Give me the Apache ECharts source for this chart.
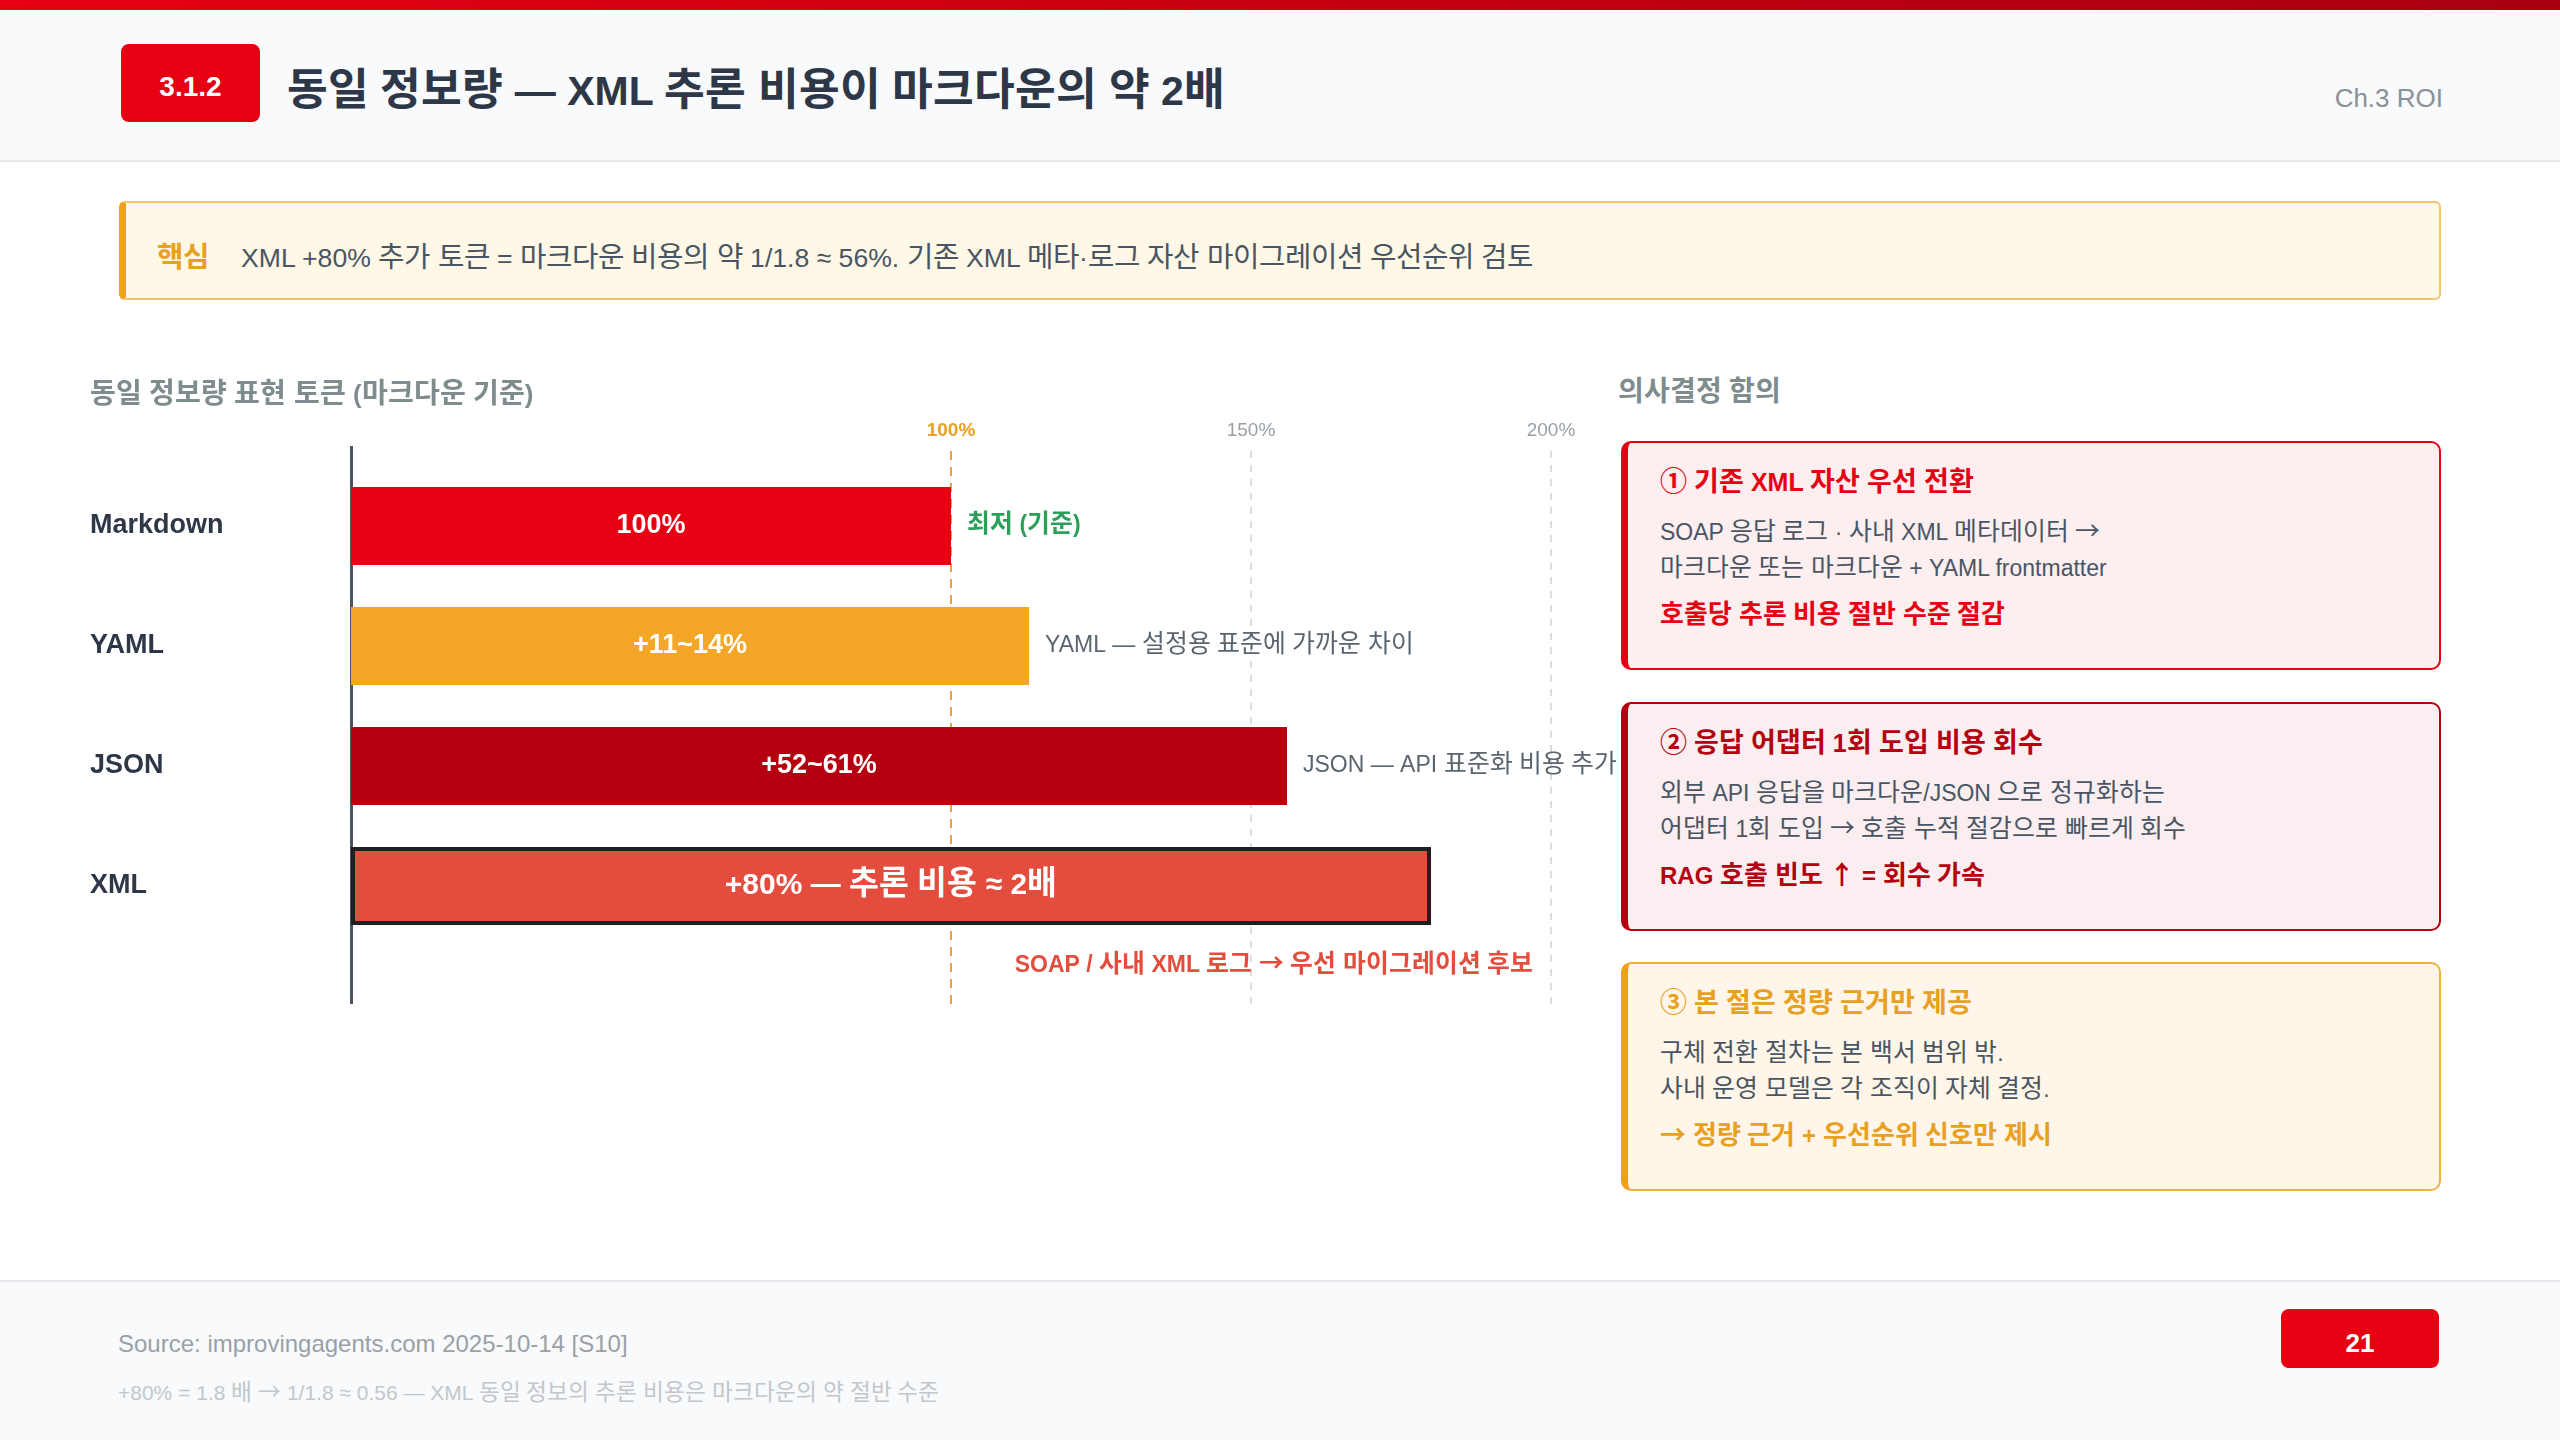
<!DOCTYPE html>
<html lang="ko">
<head>
<meta charset="UTF-8">
<title>동일 정보량 — XML 추론 비용</title>
<script src="https://cdn.jsdelivr.net/npm/echarts@6/dist/echarts.min.js"></script>
<style>
  @font-face { font-family: 'KR'; font-weight: normal;
    src: local('Noto Sans CJK KR'), local('Noto Sans CJK KR Regular'), local('NotoSansCJKkr-Regular');
    unicode-range: U+1100-11FF, U+3130-318F, U+AC00-D7AF, U+2190-21FF, U+2460-24FF; size-adjust: 108%; }
  @font-face { font-family: 'KR'; font-weight: bold;
    src: local('Noto Sans CJK KR Bold'), local('NotoSansCJKkr-Bold');
    unicode-range: U+1100-11FF, U+3130-318F, U+AC00-D7AF, U+2190-21FF, U+2460-24FF; size-adjust: 108%; }
  body { margin: 0; width: 2560px; height: 1440px; position: relative; background: #fff; overflow: hidden;
         font-family: KR, "Liberation Sans", "Noto Sans CJK KR", sans-serif; color: #2d3748; }
  .abs { position: absolute; }
  .topbar { left: 0; top: 0; width: 2560px; height: 10px; background: linear-gradient(90deg, #e60012, #a8000f); }
  .header { left: 0; top: 10px; width: 2560px; height: 150px; background: #f8fafc; border-bottom: 2px solid #e5e7eb; }
  .badge { left: 121px; top: 44px; width: 139px; height: 78px; background: #e60012; border-radius: 8px; color: #fff;
           font-weight: bold; font-size: 28px; display: flex; align-items: center; justify-content: center; padding-top: 8px; box-sizing: border-box; }
  .title { left: 287px; top: 66px; font-size: 41px; font-weight: bold; color: #2d3748; line-height: 50px; }
  .chap { right: 117px; top: 82px; font-size: 26px; color: #8a9096; line-height: 32px; }
  .callout { left: 119px; top: 201px; width: 2322px; height: 99px; box-sizing: border-box; background: #fff8e6;
             border: 2px solid #f2c46d; border-left: 7px solid #f0a020; border-radius: 6px;
             display: flex; align-items: center; padding: 8px 0 0 31px; font-size: 26.6px; color: #4a5563; }
  .callout b { color: #e8a020; margin-right: 32px; }
  .side-title { left: 1618px; top: 374px; font-size: 26px; font-weight: bold; color: #7f8c8d; line-height: 36px; }
  .card { left: 1621px; width: 820px; height: 229px; box-sizing: border-box; border-radius: 10px; padding: 21px 20px 0 32px; }
  .card h3 { margin: 0; font-size: 25px; line-height: 36px; font-weight: bold; }
  .card p { margin: 14px 0 0 0; font-size: 23px; line-height: 36px; color: #4a5563; }
  .card .em { margin-top: 11px; font-size: 24px; line-height: 36px; font-weight: bold; }
  .c1 { top: 441px; background: #fdeef0; border: 2px solid #e60012; border-left: 7px solid #e60012; }
  .c1 h3, .c1 .em { color: #e60012; }
  .c2 { top: 702px; background: #fbeef0; border: 2px solid #b5000f; border-left: 7px solid #b5000f; }
  .c2 h3, .c2 .em { color: #b5000f; }
  .c3 { top: 962px; background: #fff5e8; border: 2px solid #f2b040; border-left: 7px solid #f0a020; }
  .c3 h3, .c3 .em { color: #e8a020; }
  .footer { left: 0; top: 1280px; width: 2560px; height: 160px; background: #f8fafc; border-top: 2px solid #e5e7eb; }
  .src { left: 118px; top: 1329px; font-size: 24px; color: #9aa0a6; line-height: 30px; }
  .note { left: 118px; top: 1380px; font-size: 21px; color: #c3c7cb; line-height: 26px; }
  .page { left: 2281px; top: 1309px; width: 158px; height: 59px; background: #e60012; border-radius: 8px; color: #fff;
          font-weight: bold; font-size: 26px; display: flex; align-items: center; justify-content: center; padding-top: 9px; box-sizing: border-box; }
  #chart { left: 0; top: 0; width: 2560px; height: 1440px; z-index: 2; pointer-events: none; }
</style>
</head>
<body>
<div class="abs topbar"></div>
<div class="abs header"></div>
<div class="abs badge">3.1.2</div>
<div class="abs title">동일 정보량 — XML 추론 비용이 마크다운의 약 2배</div>
<div class="abs chap">Ch.3 ROI</div>

<div class="abs callout"><b>핵심</b><span>XML +80% 추가 토큰 = 마크다운 비용의 약 1/1.8 ≈ 56%. 기존 XML 메타·로그 자산 마이그레이션 우선순위 검토</span></div>

<div class="abs side-title">의사결정 함의</div>
<div class="abs card c1">
  <h3>① 기존 XML 자산 우선 전환</h3>
  <p>SOAP 응답 로그 · 사내 XML 메타데이터 →<br>마크다운 또는 마크다운 + YAML frontmatter</p>
  <div class="em">호출당 추론 비용 절반 수준 절감</div>
</div>
<div class="abs card c2">
  <h3>② 응답 어댑터 1회 도입 비용 회수</h3>
  <p>외부 API 응답을 마크다운/JSON 으로 정규화하는<br>어댑터 1회 도입 → 호출 누적 절감으로 빠르게 회수</p>
  <div class="em">RAG 호출 빈도 ↑ = 회수 가속</div>
</div>
<div class="abs card c3">
  <h3>③ 본 절은 정량 근거만 제공</h3>
  <p>구체 전환 절차는 본 백서 범위 밖.<br>사내 운영 모델은 각 조직이 자체 결정.</p>
  <div class="em">→ 정량 근거 + 우선순위 신호만 제시</div>
</div>

<div class="abs footer"></div>
<div class="abs src">Source: improvingagents.com 2025-10-14 [S10]</div>
<div class="abs note">+80% = 1.8 배 → 1/1.8 ≈ 0.56 — XML 동일 정보의 추론 비용은 마크다운의 약 절반 수준</div>
<div class="abs page">21</div>

<div id="chart" class="abs"></div>

<script>
// data
var categories = ['Markdown', 'YAML', 'JSON', 'XML'];
var tokenPct = [100, 113, 156, 180];
var barLabels = ['100%', '+11~14%', '+52~61%', '+80% — 추론 비용 ≈ 2배'];
var sideNotes = ['최저 (기준)', 'YAML — 설정용 표준에 가까운 차이', 'JSON — API 표준화 비용 추가', 'SOAP / 사내 XML 로그 → 우선 마이그레이션 후보'];
var refTicks = [100, 150, 200];

var FONT = 'KR, "Liberation Sans", "Noto Sans CJK KR", sans-serif';
var barColors = ['#e60012', '#f4a626', '#b5000f', '#e44d3d'];

function draw() {
    var chart = echarts.init(document.getElementById('chart'));

    var mainBars = tokenPct.map(function (v, i) {
        var last = i === tokenPct.length - 1;
        return {
            value: v,
            itemStyle: {
                color: barColors[i],
                borderColor: last ? '#1f1f1f' : barColors[i],
                borderWidth: last ? 4 : 0
            },
            label: { fontSize: last ? 30 : 27 }
        };
    });

    var noteBars = tokenPct.map(function (v, i) {
        var lbl;
        if (i === 0) {
            lbl = { color: '#2ca05a', fontWeight: 'bold', fontSize: 23 };
        } else if (i === tokenPct.length - 1) {
            lbl = { position: ['100%', '100%'], offset: [102, 41], align: 'right', verticalAlign: 'middle',
                    color: '#e44d3d', fontWeight: 'bold', fontSize: 23 };
        } else {
            lbl = { color: '#5a6570', fontSize: 23 };
        }
        return { value: v, label: lbl };
    });

    var refLines = [{
        xAxis: 0,
        lineStyle: { color: '#4a5563', width: 3, type: 'solid' },
        label: { show: false }
    }].concat(refTicks.map(function (t, i) {
        var first = i === 0;
        return {
            xAxis: t,
            lineStyle: first ? { color: '#e8a33d', width: 2, type: [9, 7] }
                             : { color: '#dddddd', width: 2, type: [7, 7] },
            label: {
                show: true, position: 'end', distance: 6,
                formatter: t + '%',
                fontFamily: FONT, fontSize: 19,
                fontWeight: first ? 'bold' : 'normal',
                color: first ? '#e8a020' : '#9aa0a6'
            }
        };
    }));

    chart.setOption({
        animation: false,
        title: {
            text: '동일 정보량 표현 토큰 (마크다운 기준)',
            left: 90, top: 383, padding: 0,
            textStyle: { fontFamily: FONT, fontSize: 26, fontWeight: 'bold', color: '#7f8c8d' }
        },
        grid: [
            { left: 351, top: 466, width: 1200, height: 480 },
            { left: 351, top: 446, width: 1200, height: 558 }
        ],
        xAxis: [
            { gridIndex: 0, type: 'value', min: 0, max: 200, show: false },
            { gridIndex: 1, type: 'value', min: 0, max: 200, show: false }
        ],
        yAxis: [
            {
                gridIndex: 0, type: 'category', data: categories, inverse: true,
                axisLine: { show: false }, axisTick: { show: false },
                axisLabel: {
                    align: 'left', margin: 261, padding: [0, 0, 12, 0],
                    fontFamily: FONT, fontSize: 27, fontWeight: 'bold', color: '#2d3748'
                }
            },
            { gridIndex: 1, type: 'value', min: 0, max: 1, show: false }
        ],
        series: [
            {
                type: 'line', xAxisIndex: 1, yAxisIndex: 1, data: [], z: 0,
                markLine: { silent: true, symbol: ['none', 'none'], z: 0, data: refLines }
            },
            {
                type: 'bar', xAxisIndex: 0, yAxisIndex: 0, barWidth: 78, z: 3,
                data: mainBars,
                label: {
                    show: true, position: 'inside', color: '#fff', fontWeight: 'bold', fontFamily: FONT,
                    formatter: function (p) { return barLabels[p.dataIndex]; }
                }
            },
            {
                type: 'bar', xAxisIndex: 0, yAxisIndex: 0, barWidth: 78, barGap: '-100%', z: 4,
                itemStyle: { color: 'rgba(0,0,0,0)' },
                data: noteBars,
                label: {
                    show: true, position: 'right', distance: 16, fontFamily: FONT,
                    formatter: function (p) { return sideNotes[p.dataIndex]; }
                }
            }
        ]
    });
}

document.fonts.load('26px KR', '가→').then(function () {
    return document.fonts.load('bold 26px KR', '가→');
}).catch(function () {}).then(function () {
    return document.fonts.ready;
}).then(draw, draw);
</script>
</body>
</html>
